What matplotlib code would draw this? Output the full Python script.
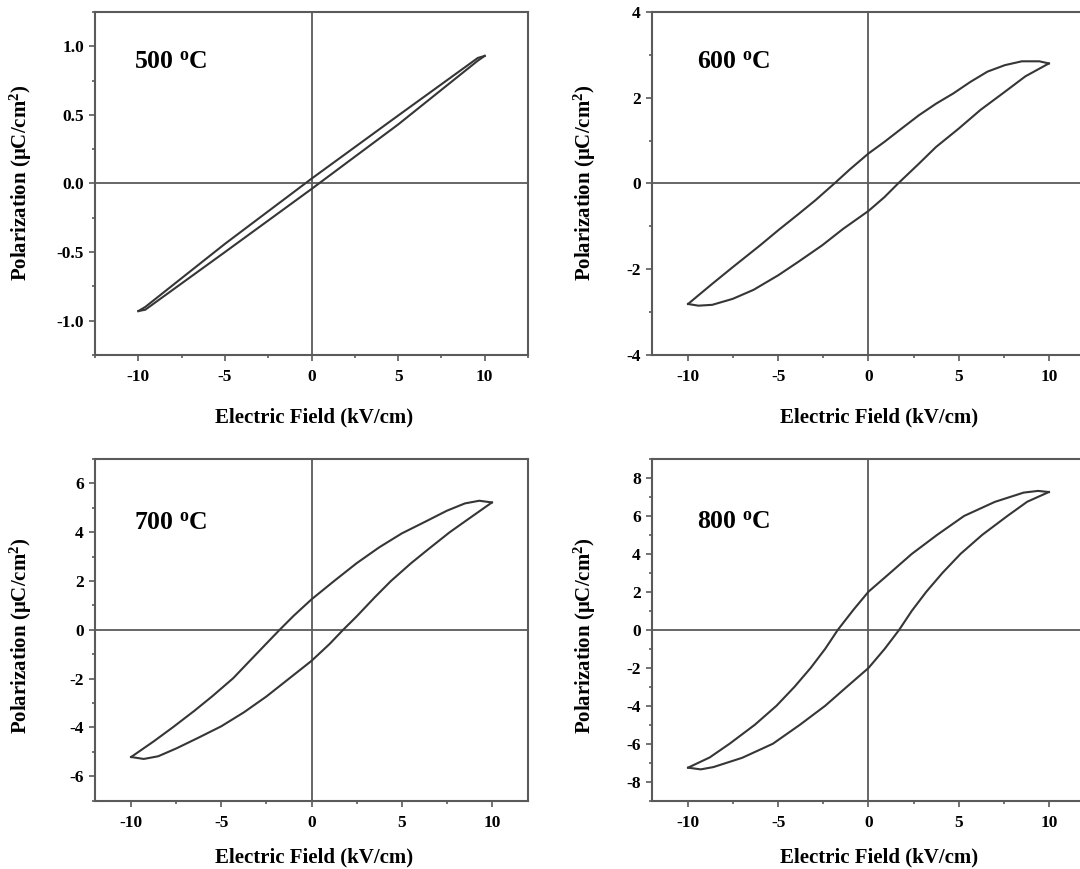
import matplotlib
matplotlib.use('Agg')
import matplotlib.pyplot as plt
from matplotlib.ticker import MultipleLocator, FormatStrFormatter

plt.rcParams['font.family'] = ['Liberation Serif', 'DejaVu Serif']
plt.rcParams['font.weight'] = 'bold'
plt.rcParams['axes.labelweight'] = 'bold'
plt.rcParams['mathtext.default'] = 'regular'
plt.rcParams['axes.unicode_minus'] = False

# P-E hysteresis loops, one pair of branches per annealing temperature
# "up" = field sweeping +10 -> -10, "dn" = field sweeping -10 -> +10

# 500 C
E_500_up = [10, 9.6, 5, 0, -5, -9.6, -10]
P_500_up = [0.93, 0.915, 0.495, 0.035, -0.44, -0.90, -0.93]
E_500_dn = [-10, -9.6, -5, 0, 5, 9.6, 10]
P_500_dn = [-0.93, -0.92, -0.50, -0.04, 0.43, 0.895, 0.93]

# 600 C
E_600_up = [10, 9.47, 8.5, 7.56, 6.6, 5.65, 4.7, 3.74, 2.79, 1.83, 0.88, 0,
            -1.03, -1.89, -2.94, -3.9, -5, -6.0, -7.52, -8.66, -9.43, -10]
P_600_up = [2.80, 2.85, 2.85, 2.76, 2.61, 2.37, 2.10, 1.86, 1.59, 1.28, 0.97, 0.70,
            0.33, 0, -0.39, -0.72, -1.09, -1.44, -1.95, -2.34, -2.61, -2.81]
E_600_dn = [-10, -9.43, -8.66, -7.52, -6.37, -5, -3.9, -2.56, -1.41, 0,
            0.88, 1.64, 2.79, 3.74, 5, 6.22, 7.5, 8.7, 10]
P_600_dn = [-2.81, -2.85, -2.83, -2.69, -2.48, -2.14, -1.83, -1.44, -1.06, -0.64,
            -0.32, 0, 0.46, 0.85, 1.28, 1.72, 2.12, 2.50, 2.80]

# 700 C
E_700_up = [10, 9.3, 8.5, 7.5, 6.3, 5, 3.75, 2.5, 1.25, 0, -1.0, -1.77, -2.5,
            -3.5, -4.34, -5.5, -6.5, -7.7, -8.75, -10]
P_700_up = [5.22, 5.29, 5.18, 4.88, 4.43, 3.95, 3.38, 2.73, 2.0, 1.25, 0.57, 0,
            -0.56, -1.33, -1.98, -2.72, -3.32, -4.0, -4.57, -5.21]
E_700_dn = [-10, -9.3, -8.5, -7.5, -6.3, -5, -3.75, -2.5, -1.25, 0, 1.0, 1.75,
            2.5, 3.5, 4.4, 5.5, 6.5, 7.66, 8.75, 10]
P_700_dn = [-5.21, -5.29, -5.18, -4.86, -4.43, -3.95, -3.38, -2.73, -2.0, -1.27,
            -0.58, 0, 0.55, 1.33, 2.0, 2.72, 3.32, 4.0, 4.57, 5.22]

# 800 C
E_800_up = [10, 9.4, 8.6, 7.0, 5.3, 3.8, 2.4, 1.2, 0, -0.84, -1.70, -2.4,
            -3.2, -4.1, -5.1, -6.3, -7.7, -8.8, -10]
P_800_up = [7.26, 7.32, 7.23, 6.74, 6.0, 5.0, 4.0, 3.0, 2.01, 1.05, 0, -1.0,
            -2.0, -3.0, -4.0, -5.0, -6.0, -6.72, -7.26]
E_800_dn = [-10, -9.3, -8.6, -7.0, -5.3, -3.8, -2.4, -1.2, 0, 0.9, 1.7,
            2.4, 3.2, 4.1, 5.1, 6.3, 7.7, 8.8, 10]
P_800_dn = [-7.26, -7.35, -7.23, -6.74, -6.0, -5.0, -4.0, -3.0, -2.01, -1.0,
            0, 1.0, 2.0, 3.0, 4.0, 5.0, 6.0, 6.75, 7.26]

labels = ['500 $^{o}$C', '600 $^{o}$C', '700 $^{o}$C', '800 $^{o}$C']
ylims = [1.25, 4, 7, 9]
xlims = [(-12.5, 12.5), (-12, 12), (-12, 12), (-12, 12)]
ymajor = [0.5, 2, 2, 2]
yminor = [0.25, 1, 1, 1]
label_pos = [(-10.23, 0.886), (-9.52, 2.83), (-9.82, 4.36), (-9.52, 5.70)]

loops = [
    (E_500_up, P_500_up, E_500_dn, P_500_dn),
    (E_600_up, P_600_up, E_600_dn, P_600_dn),
    (E_700_up, P_700_up, E_700_dn, P_700_dn),
    (E_800_up, P_800_up, E_800_dn, P_800_dn),
]

# axes rectangles in figure fraction; right-hand panels run off the page edge
rects = [
    [0.0880, 0.5915, 0.4009, 0.3947],
    [0.6037, 0.5915, 0.4009, 0.3947],
    [0.0880, 0.0786, 0.4009, 0.3932],
    [0.6037, 0.0786, 0.4009, 0.3932],
]
xlabel_xy = [(0.506, -0.182), (0.524, -0.182), (0.506, -0.165), (0.524, -0.165)]
ylabel_xy = [(-0.172, 0.502), (-0.155, 0.502), (-0.172, 0.483), (-0.155, 0.483)]

spine_col = '#5a5a5a'
line_col = '#363636'

fig = plt.figure(figsize=(10.8, 8.69), dpi=100)

for i in range(4):
    ax = fig.add_axes(rects[i])
    Eu, Pu, Ed, Pd = loops[i]
    ax.plot(Eu, Pu, color=line_col, lw=1.5, zorder=3)
    ax.plot(Ed, Pd, color=line_col, lw=1.5, zorder=3)
    ax.axhline(0, color=spine_col, lw=1.3, zorder=1)
    ax.axvline(0, color=spine_col, lw=1.3, zorder=1)

    ax.set_xlim(*xlims[i])
    ax.set_ylim(-ylims[i], ylims[i])
    ax.xaxis.set_major_locator(MultipleLocator(5))
    ax.xaxis.set_minor_locator(MultipleLocator(2.5))
    ax.yaxis.set_major_locator(MultipleLocator(ymajor[i]))
    ax.yaxis.set_minor_locator(MultipleLocator(yminor[i]))
    if i == 0:
        ax.yaxis.set_major_formatter(FormatStrFormatter('%.1f'))

    for s in ax.spines.values():
        s.set_color(spine_col)
        s.set_linewidth(1.5)
    ax.tick_params(which='both', direction='out', color=spine_col, width=1.2,
                   labelsize=12.5)
    ax.tick_params(which='major', length=4)
    ax.tick_params(which='minor', length=2.5)
    ax.tick_params(axis='x', which='major', pad=6)
    ax.tick_params(axis='y', which='major', pad=4)

    ax.text(label_pos[i][0], label_pos[i][1], labels[i], fontsize=18.5,
            ha='left', va='center')

    ax.set_xlabel('Electric Field (kV/cm)', fontsize=15, va='center')
    ax.xaxis.set_label_coords(*xlabel_xy[i])
    ax.set_ylabel('Polarization (μC/cm$^{2}$)', fontsize=15, va='center')
    ax.yaxis.set_label_coords(*ylabel_xy[i])

fig.savefig('out.png', dpi=100)
